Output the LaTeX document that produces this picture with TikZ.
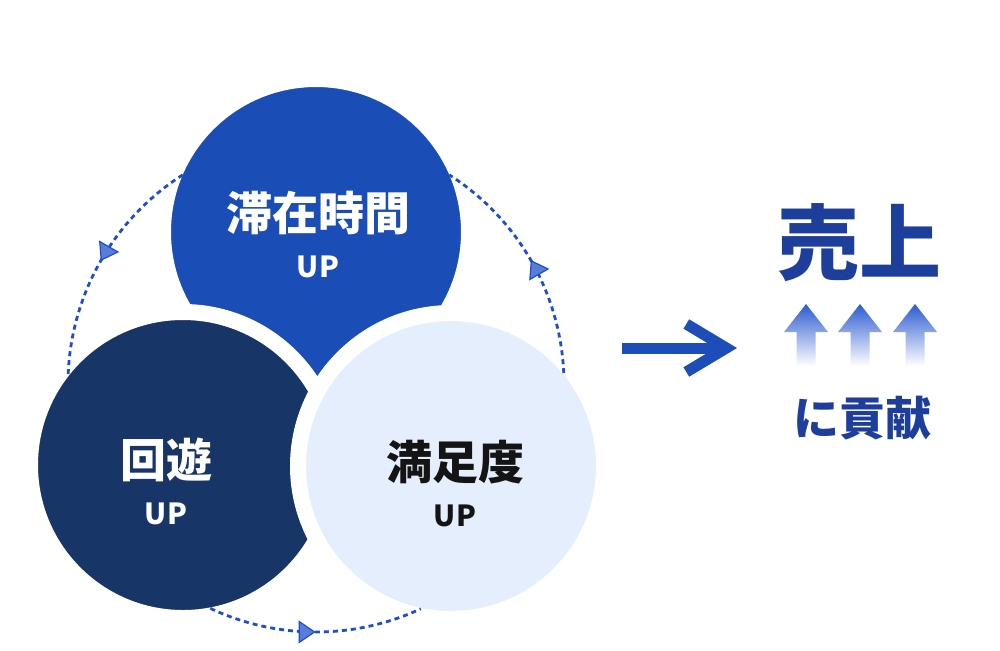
\documentclass[tikz,border=0pt]{standalone}
\usepackage{fontspec}
\setmainfont{Noto Sans CJK JP}
\definecolor{stayblue}{RGB}{26, 77, 181}
\definecolor{tournavy}{RGB}{24, 53, 104}
\definecolor{satislight}{RGB}{228, 238, 252}
\definecolor{cycleblue}{RGB}{32, 78, 200}
\definecolor{salesblue}{RGB}{30, 62, 155}
\definecolor{arrowblue}{RGB}{29, 77, 184}
\definecolor{upblue}{RGB}{45, 92, 208}
\definecolor{inkblack}{RGB}{20, 20, 20}
\usetikzlibrary{positioning, arrows.meta, decorations.markings}

\begin{document}
\begin{tikzpicture}[x=0.5pt, y=-0.5pt, every node/.style={font=\bfseries, inner sep=0pt},
    bubble/.style={circle, draw=white, line width=8pt, minimum size=153pt},
    title/.style={font=\bfseries\fontsize{23pt}{23pt}\selectfont},
    up/.style={font=\bfseries\fontsize{14.5pt}{14.5pt}\selectfont, below=10pt of #1},
    cycle/.style={cycleblue, line width=1.4pt, dash pattern=on 2.5pt off 2pt,
        decoration={markings, mark=at position 0.5 with {\arrow{Triangle[length=8.5pt, width=11.5pt, fill=upblue!80, line width=0.6pt]}}},
        postaction={decorate}}]
    \useasboundingbox (0,0) rectangle (1000,650);

    \node [bubble, fill=stayblue] (stay) at (316,232) {};
    \node [bubble, fill=tournavy] (tour) at (183,465) {};
    \node [bubble, fill=satislight] (satis) at (451,466) {};

    \coordinate (cyc) at (316,384);
    \draw [cycle] ([shift={(-122.5:248)}]cyc) arc [start angle=-122.5, end angle=-178, radius=248];
    \draw [cycle] ([shift={(-244.8:248)}]cyc) arc [start angle=-244.8, end angle=-295, radius=248];
    \draw [cycle] ([shift={(-2.5:248)}]cyc) arc [start angle=-2.5, end angle=-57.5, radius=248];

    \node [title, text=white] (staytxt) at (318,213) {滞在時間};
    \node [up=staytxt, text=white] (stayup) {UP};
    \node [title, text=white] (tourtxt) at (166,460) {回遊};
    \node [up=tourtxt, text=white] (tourup) {UP};
    \node [title, text=inkblack] (satistxt) at (455,462) {満足度};
    \node [up=satistxt, text=inkblack] (satisup) {UP};

    \coordinate (goL) at (622,348);
    \coordinate (goR) at (737,348);
    \draw [arrowblue, line width=5.5pt, -{Straight Barb[length=20pt, width=24pt]}] (goL) -- (goR);

    \node [text=salesblue, font=\bfseries\fontsize{41pt}{41pt}\selectfont] (sales) at (859,243) {売上};
    \foreach \x in {806, 860, 915}
        \shade [top color=upblue, middle color=upblue!75, bottom color=white]
            (\x,304) -- (\x+22,332) -- (\x+9.5,332) -- (\x+9.5,366) -- (\x-9.5,366) -- (\x-9.5,332) -- (\x-22,332) -- cycle;
    \node [text=salesblue, font=\bfseries\fontsize{23pt}{23pt}\selectfont] (contrib) at (862,418) {に貢献};
\end{tikzpicture}
\end{document}
